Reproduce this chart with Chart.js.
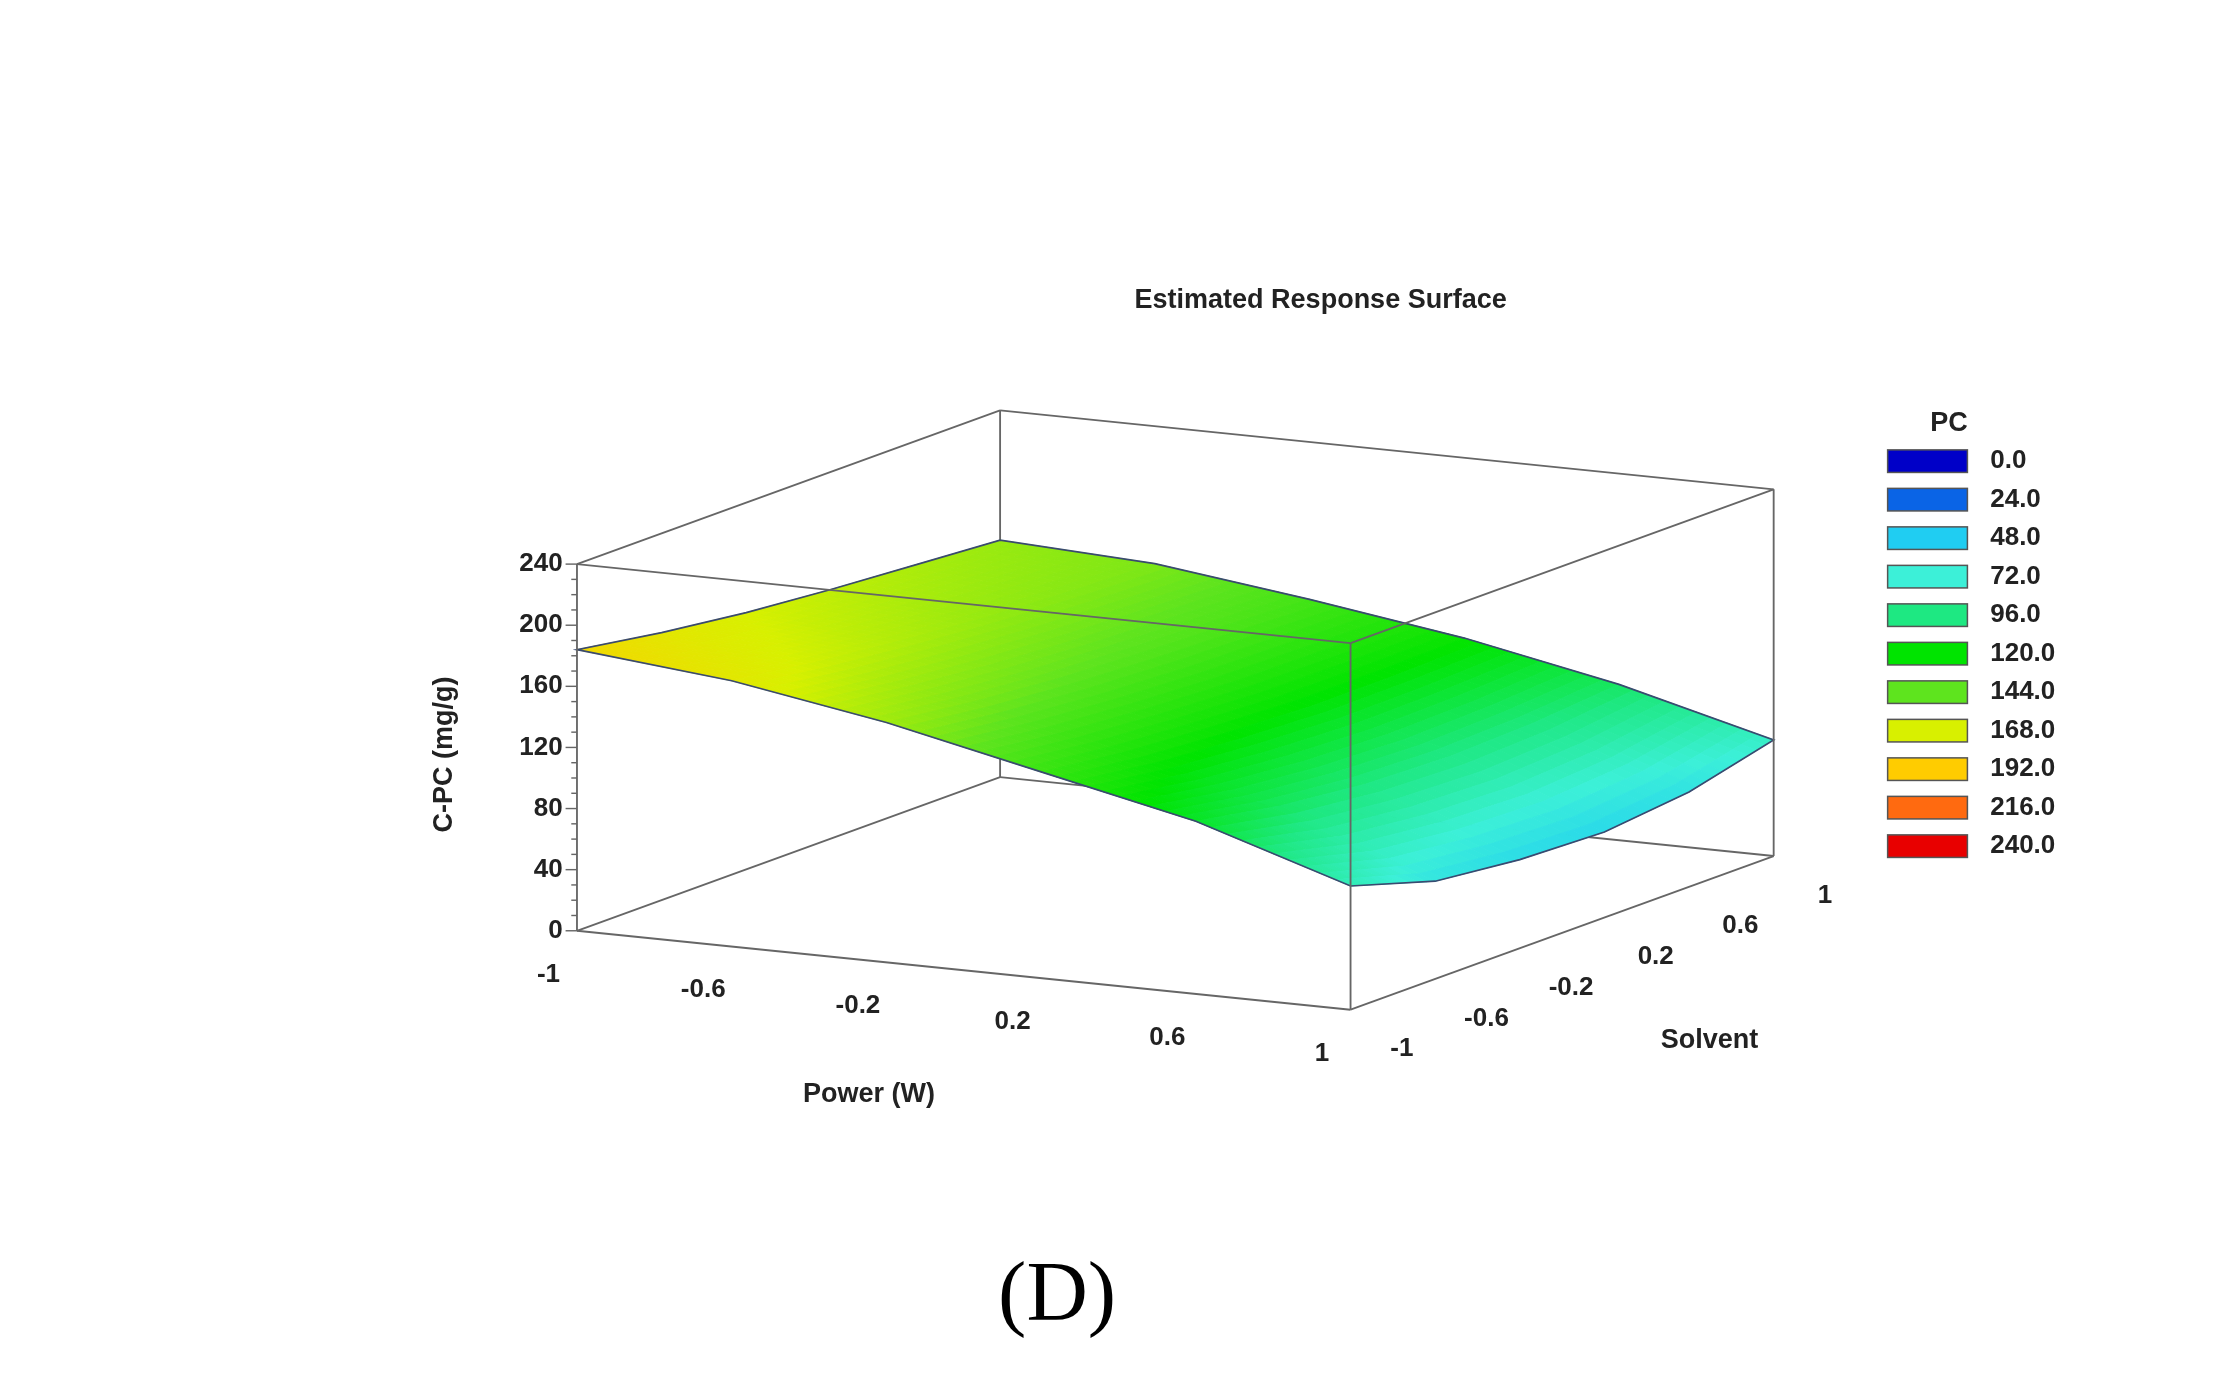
<!DOCTYPE html>
<html>
<head>
<meta charset="utf-8">
<script src="https://cdn.jsdelivr.net/npm/chart.js@4.4.0/dist/chart.umd.min.js"></script>
<style>
  html, body { margin: 0; padding: 0; background: #fff; }
  #wrap { width: 2221px; height: 1375px; position: relative; }
</style>
</head>
<body>
<div id="wrap"><canvas id="surf"></canvas></div>
<script>
// grid values
const powerTicks = [-1, -0.6, -0.2, 0.2, 0.6, 1];
const solventTicks = [-1, -0.6, -0.2, 0.2, 0.6, 1];
const cpcTicks = [0, 40, 80, 120, 160, 200, 240];
// rows: power, columns: solvent
const cpcValues = [
  [184, 175, 168, 163, 159, 155],
  [174, 166, 160, 155, 152, 150],
  [157, 150, 145, 142, 140, 137],
  [135, 128, 124, 121, 121, 122],
  [113, 103,  97,  95,  97, 102],
  [ 81,  64,  58,  56,  62,  76]
];
const legendLevels = ['0.0','24.0','48.0','72.0','96.0','120.0','144.0','168.0','192.0','216.0','240.0'];
const legendColors = ['#0000c8','#0a64e6','#20cdf2','#3cf0d8','#1ee882','#00e400','#5ee41e','#d8f000','#ffcc00','#ff6a10','#e80000'];

// projection (display units of a 1559x975 sheet)
const origin = [825, 633.5];
const ex = [271.5, 28];      // per unit of power
const ey = [148.5, -54.5];   // per unit of solvent
const ez = -260 / 240;       // per mg/g

function proj(p, s, z) {
  return [origin[0] + p * ex[0] + s * ey[0], origin[1] + p * ex[1] + s * ey[1] + z * ez];
}

function hexRgb(h) {
  return [parseInt(h.slice(1, 3), 16), parseInt(h.slice(3, 5), 16), parseInt(h.slice(5, 7), 16)];
}
const cmap = legendColors.map(hexRgb);
function colorFor(z) {
  let t = Math.max(0, Math.min(10, z / 24));
  let i = Math.min(9, Math.floor(t)), f = t - i;
  let a = cmap[i], b = cmap[i + 1];
  return `rgb(${a.map((v, k) => Math.round(v + (b[k] - v) * f)).join(',')})`;
}

const surfacePlugin = {
  id: 'surface',
  afterDatasetsDraw(chart) {
    const ctx = chart.ctx;
    const X = chart.scales.x, Y = chart.scales.y;
    const k = chart.width / 1559;
    const pt = (q) => [X.getPixelForValue(q[0]), Y.getPixelForValue(q[1])];
    const line = (a, b, col, w) => {
      const A = pt(a), B = pt(b);
      ctx.beginPath(); ctx.moveTo(A[0], A[1]); ctx.lineTo(B[0], B[1]);
      ctx.strokeStyle = col; ctx.lineWidth = w * k; ctx.stroke();
    };
    const text = (str, q, font, align, base, col) => {
      const A = pt(q);
      ctx.font = font; ctx.textAlign = align; ctx.textBaseline = base;
      ctx.fillStyle = col || '#222'; ctx.fillText(str, A[0], A[1]);
    };
    const boxCol = '#666';
    // back/hidden box edges
    line(proj(-1, 1, 0), proj(1, 1, 0), boxCol, 1.3);
    line(proj(-1, -1, 0), proj(-1, 1, 0), boxCol, 1.3);
    line(proj(-1, 1, 0), proj(-1, 1, 240), boxCol, 1.3);
    line(proj(-1, 1, 240), proj(1, 1, 240), boxCol, 1.3);

    // surface
    const n = 10;
    const cells = [];
    for (let i = 0; i < 5; i++) for (let j = 0; j < 5; j++) cells.push([i, j]);
    cells.sort((a, b) => (b[1] - a[1]) || (a[0] - b[0]));
    cells.forEach(([i, j]) => {
      const p0 = powerTicks[i], p1 = powerTicks[i + 1];
      const s0 = solventTicks[j], s1 = solventTicks[j + 1];
      const z00 = cpcValues[i][j], z10 = cpcValues[i + 1][j], z01 = cpcValues[i][j + 1], z11 = cpcValues[i + 1][j + 1];
      const zAt = (u, v) => z00 * (1 - u) * (1 - v) + z10 * u * (1 - v) + z01 * (1 - u) * v + z11 * u * v;
      for (let b = n - 1; b >= 0; b--) for (let a = 0; a < n; a++) {
        const us = [a / n, (a + 1) / n], vs = [b / n, (b + 1) / n];
        const corners = [[us[0], vs[0]], [us[1], vs[0]], [us[1], vs[1]], [us[0], vs[1]]];
        ctx.beginPath();
        let zs = 0;
        corners.forEach(([u, v], c) => {
          const z = zAt(u, v); zs += z;
          const P = pt(proj(p0 + (p1 - p0) * u, s0 + (s1 - s0) * v, z));
          if (c === 0) ctx.moveTo(P[0], P[1]); else ctx.lineTo(P[0], P[1]);
        });
        ctx.closePath();
        const col = colorFor(zs / 4);
        ctx.fillStyle = col; ctx.strokeStyle = col; ctx.lineWidth = 1;
        ctx.fill(); ctx.stroke();
      }
    });
    // surface outline
    const edge = [];
    const zv = (i, j) => cpcValues[i][j];
    for (let i = 0; i < 6; i++) edge.push(proj(powerTicks[i], -1, zv(i, 0)));
    for (let j = 1; j < 6; j++) edge.push(proj(1, solventTicks[j], zv(5, j)));
    for (let i = 4; i >= 0; i--) edge.push(proj(powerTicks[i], 1, zv(i, 5)));
    for (let j = 4; j >= 0; j--) edge.push(proj(-1, solventTicks[j], zv(0, j)));
    ctx.beginPath();
    edge.forEach((q, c) => { const P = pt(q); if (c === 0) ctx.moveTo(P[0], P[1]); else ctx.lineTo(P[0], P[1]); });
    ctx.closePath();
    ctx.strokeStyle = '#3a4a70'; ctx.lineWidth = 1.2 * k; ctx.stroke();

    // front box edges
    line(proj(-1, -1, 0), proj(1, -1, 0), boxCol, 1.3);
    line(proj(1, -1, 0), proj(1, 1, 0), boxCol, 1.3);
    line(proj(1, 1, 0), proj(1, 1, 240), boxCol, 1.3);
    line(proj(-1, -1, 0), proj(-1, -1, 240), boxCol, 1.3);
    line(proj(1, -1, 0), proj(1, -1, 240), boxCol, 1.3);
    line(proj(-1, -1, 240), proj(1, -1, 240), boxCol, 1.3);
    line(proj(-1, -1, 240), proj(-1, 1, 240), boxCol, 1.3);
    line(proj(1, -1, 240), proj(1, 1, 240), boxCol, 1.3);

    const f = (px) => `bold ${Math.round(px * k)}px "Liberation Sans", Arial, sans-serif`;
    // z ticks with minor ticks
    for (let z = 0; z <= 240; z += 10) {
      const P = proj(-1, -1, z);
      line([P[0] - (z % 40 === 0 ? 8 : 4), P[1]], P, boxCol, 1);
    }
    cpcTicks.forEach(z => {
      const P = proj(-1, -1, z);
      text(String(z), [P[0] - 10, P[1]], f(18), 'right', 'middle');
    });
    powerTicks.forEach(p => {
      const P = proj(p, -1, 0);
      text(String(p), [P[0] - 20, P[1] + 31], f(18), 'center', 'middle');
    });
    solventTicks.forEach(s => {
      const P = proj(1, s, 0);
      text(String(s), [P[0] + 36, P[1] + 28], f(18), 'center', 'middle');
    });
    text('Power (W)', [610, 776], f(19), 'center', 'middle');
    text('Solvent', [1200, 738], f(19), 'center', 'middle');
    text('Estimated Response Surface', [927, 213], f(19), 'center', 'middle');
    // rotated z title
    const Z = pt([312, 535]);
    ctx.save(); ctx.translate(Z[0], Z[1]); ctx.rotate(-Math.PI / 2);
    ctx.font = f(19); ctx.textAlign = 'center'; ctx.textBaseline = 'middle'; ctx.fillStyle = '#222';
    ctx.fillText('C-PC (mg/g)', 0, 0); ctx.restore();

    // legend
    text('PC', [1368, 300], f(19), 'center', 'middle');
    legendLevels.forEach((lab, i) => {
      const y = 327 + i * 27.3;
      const A = pt([1325, y - 8]), B = pt([1381, y + 8]);
      ctx.fillStyle = legendColors[i]; ctx.fillRect(A[0], A[1], B[0] - A[0], B[1] - A[1]);
      ctx.strokeStyle = '#555'; ctx.lineWidth = 1.5; ctx.strokeRect(A[0], A[1], B[0] - A[0], B[1] - A[1]);
      text(lab, [1397, y], f(18), 'left', 'middle');
    });
    text('(D)', [742, 920], `${Math.round(60 * k)}px "Liberation Serif", "Times New Roman", serif`, 'center', 'middle', '#000');
  }
};

const gridPoints = [];
powerTicks.forEach((p, i) => solventTicks.forEach((s, j) => {
  const q = proj(p, s, cpcValues[i][j]);
  gridPoints.push({ x: q[0], y: q[1] });
}));

new Chart(document.getElementById('surf'), {
  type: 'scatter',
  data: { datasets: [{ label: 'PC', data: gridPoints, pointRadius: 0 }] },
  options: {
    responsive: true,
    maintainAspectRatio: false,
    animation: false,
    layout: { padding: 0 },
    plugins: { legend: { display: false }, tooltip: { enabled: false } },
    scales: {
      x: { type: 'linear', min: 0, max: 1559, display: false },
      y: { type: 'linear', min: 0, max: 975, reverse: true, display: false }
    }
  },
  plugins: [surfacePlugin]
});
</script>
</body>
</html>
